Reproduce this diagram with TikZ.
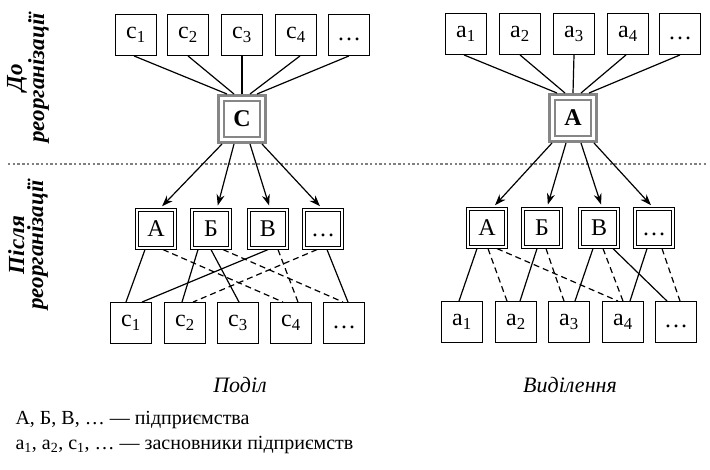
\documentclass[tikz,border=0pt]{standalone}
\usepackage{fontspec}
\setmainfont{Liberation Serif}
\usetikzlibrary{arrows.meta}
\begin{document}
\begin{tikzpicture}[x=1pt,y=-1pt,
  lbl/.style={font=\fontsize{24}{26}\selectfont},
  box/.style={lbl, draw, line width=1.4pt, minimum width=40.5pt, minimum height=40.5pt, inner sep=0pt},
  dbox/.style={lbl, draw, line width=1pt, double, double distance=1.2pt, minimum width=38pt, minimum height=38pt, outer sep=1.6pt, inner sep=0pt},
  gbox/.style={draw=gray!95, line width=3pt, minimum width=47pt, minimum height=47pt, inner sep=0pt, font=\bfseries\fontsize{24}{26}\selectfont},
  ginner/.style={draw=gray!95, line width=2pt},
  con/.style={line width=1.2pt},
  dcon/.style={con, dash pattern=on 6pt off 4pt},
  arr/.style={con, -{Stealth[length=11pt,width=8pt]}, shorten >=3pt},
  side/.style={rotate=90, align=center, font=\bfseries\itshape\fontsize{23}{19}\selectfont},
  captext/.style={font=\itshape\fontsize{22}{24}\selectfont},
  leg/.style={anchor=west, font=\fontsize{20}{24}\selectfont}
]
\useasboundingbox (0,0) rectangle (710,469);

% side labels
\node[side] (lab1) at (28,78) {До\\реорганізації};
\node[side] (lab2) at (28,245) {Після\\реорганізації};

% dotted separator
\coordinate (dl) at (8,164);
\coordinate (dr) at (708,164);
\draw[gray, line width=2pt, dash pattern=on 2.4pt off 2.3pt] (dl) -- (dr);

% ---------- left: Поділ ----------
\node[box] (tc1) at (136,35) {c\textsubscript{1}};
\node[box] (tc2) at (188,35) {c\textsubscript{2}};
\node[box] (tc3) at (242,35) {c\textsubscript{3}};
\node[box] (tc4) at (296,35) {c\textsubscript{4}};
\node[box] (tc5) at (349,35) {\vphantom{c}…};
\node[gbox] (C) at (242,119) {C};
\draw[ginner] ([shift={(7,7)}]C.north west) rectangle ([shift={(-7,-7)}]C.south east);

\node[dbox] (mA) at (156,229) {А};
\node[dbox] (mB) at (211,229) {Б};
\node[dbox] (mV) at (268,229) {В};
\node[dbox] (mD) at (323,229) {\vphantom{А}…};

\node[box] (bc1) at (131,323) {c\textsubscript{1}};
\node[box] (bc2) at (185,323) {c\textsubscript{2}};
\node[box] (bc3) at (238,323) {c\textsubscript{3}};
\node[box] (bc4) at (291,323) {c\textsubscript{4}};
\node[box] (bc5) at (344,323) {\vphantom{c}…};

\draw[con] ([xshift=-2pt]tc1.south) -- ([xshift=-15pt]C.north);
\draw[con] (tc2.south) -- ([xshift=-8pt]C.north);
\draw[con] (tc3.south) -- (C.north);
\draw[con] ([xshift=4pt]tc4.south) -- ([xshift=8pt]C.north);
\draw[con] (tc5.south) -- ([xshift=15pt]C.north);

\draw[arr] ([xshift=-20pt]C.south) -- ([xshift=4pt]mA.north);
\draw[arr] ([xshift=-8pt]C.south) -- ([xshift=6pt]mB.north);
\draw[arr] ([xshift=8pt]C.south) -- ([xshift=2pt]mV.north);
\draw[arr] ([xshift=20pt]C.south) -- ([xshift=-1pt]mD.north);

\draw[con]  ([xshift=-11pt]mA.south) -- ([xshift=-5pt]bc1.north);
\draw[dcon] ([xshift=7pt]mA.south)   -- ([xshift=-8pt]bc4.north);
\draw[con]  ([xshift=-13pt]mB.south) -- ([xshift=-3pt]bc2.north);
\draw[con]  (mB.south)               -- ([xshift=1pt]bc3.north);
\draw[dcon] ([xshift=12pt]mB.south)  -- ([xshift=-1pt]bc5.north);
\draw[con]  (mV.south)               -- ([xshift=11pt]bc1.north);
\draw[dcon] ([xshift=10pt]mV.south)  -- ([xshift=7pt]bc4.north);
\draw[dcon] ([xshift=-6pt]mD.south)  -- ([xshift=8pt]bc2.north);
\draw[con]  ([xshift=4pt]mD.south)   -- ([xshift=4pt]bc5.north);

% ---------- right: Виділення ----------
\node[box] (ta1) at (466,34) {a\textsubscript{1}};
\node[box] (ta2) at (520,34) {a\textsubscript{2}};
\node[box] (ta3) at (574,34) {a\textsubscript{3}};
\node[box] (ta4) at (628,34) {a\textsubscript{4}};
\node[box] (ta5) at (680,34) {\vphantom{a}…};
\node[gbox] (A) at (573,118) {А};
\draw[ginner] ([shift={(7,7)}]A.north west) rectangle ([shift={(-7,-7)}]A.south east);

\node[dbox] (nA) at (487,228) {А};
\node[dbox] (nB) at (542,228) {Б};
\node[dbox] (nV) at (599,228) {В};
\node[dbox] (nD) at (654,228) {\vphantom{А}…};

\node[box] (ba1) at (462,322) {a\textsubscript{1}};
\node[box] (ba2) at (516,322) {a\textsubscript{2}};
\node[box] (ba3) at (569,322) {a\textsubscript{3}};
\node[box] (ba4) at (623,322) {a\textsubscript{4}};
\node[box] (ba5) at (676,322) {\vphantom{a}…};

\draw[con] ([xshift=-2pt]ta1.south) -- ([xshift=-16pt]A.north);
\draw[con] (ta2.south) -- ([xshift=-8pt]A.north);
\draw[con] (ta3.south) -- (A.north);
\draw[con] ([xshift=-2pt]ta4.south) -- ([xshift=8pt]A.north);
\draw[con] (ta5.south) -- ([xshift=16pt]A.north);

\draw[arr] ([xshift=-21pt]A.south) -- ([xshift=6pt]nA.north);
\draw[arr] ([xshift=-7pt]A.south)  -- ([xshift=5pt]nB.north);
\draw[arr] ([xshift=8pt]A.south)   -- ([xshift=3pt]nV.north);
\draw[arr] ([xshift=21pt]A.south)  -- ([xshift=-1pt]nD.north);

\draw[con]  ([xshift=-10pt]nA.south) -- ([xshift=-3pt]ba1.north);
\draw[dcon] ([xshift=1pt]nA.south)   -- ([xshift=-9pt]ba2.north);
\draw[dcon] ([xshift=10pt]nA.south)  -- ([xshift=-5pt]ba4.north);
\draw[con]  ([xshift=-5pt]nB.south)  -- ([xshift=4pt]ba2.north);
\draw[dcon] ([xshift=4pt]nB.south)   -- ([xshift=-5pt]ba3.north);
\draw[con]  ([xshift=-6pt]nV.south)  -- ([xshift=6pt]ba3.north);
\draw[dcon] ([xshift=4pt]nV.south)   -- (ba4.north);
\draw[con]  ([xshift=14pt]nV.south)  -- ([xshift=-9pt]ba5.north);
\draw[con]  ([xshift=-7pt]nD.south)  -- ([xshift=7pt]ba4.north);
\draw[dcon] ([xshift=8pt]nD.south)   -- ([xshift=4pt]ba5.north);

% captions
\node[captext] (cap1) at (240,385) {Поділ};
\node[captext] (cap2) at (570,385) {Виділення};

% legend
\node[leg] (leg1) at (12,420) {А, Б, В, … — підприємства};
\node[leg] (leg2) at (12,445) {a\textsubscript{1}, a\textsubscript{2}, c\textsubscript{1}, … — засновники підприємств};
\end{tikzpicture}
\end{document}
